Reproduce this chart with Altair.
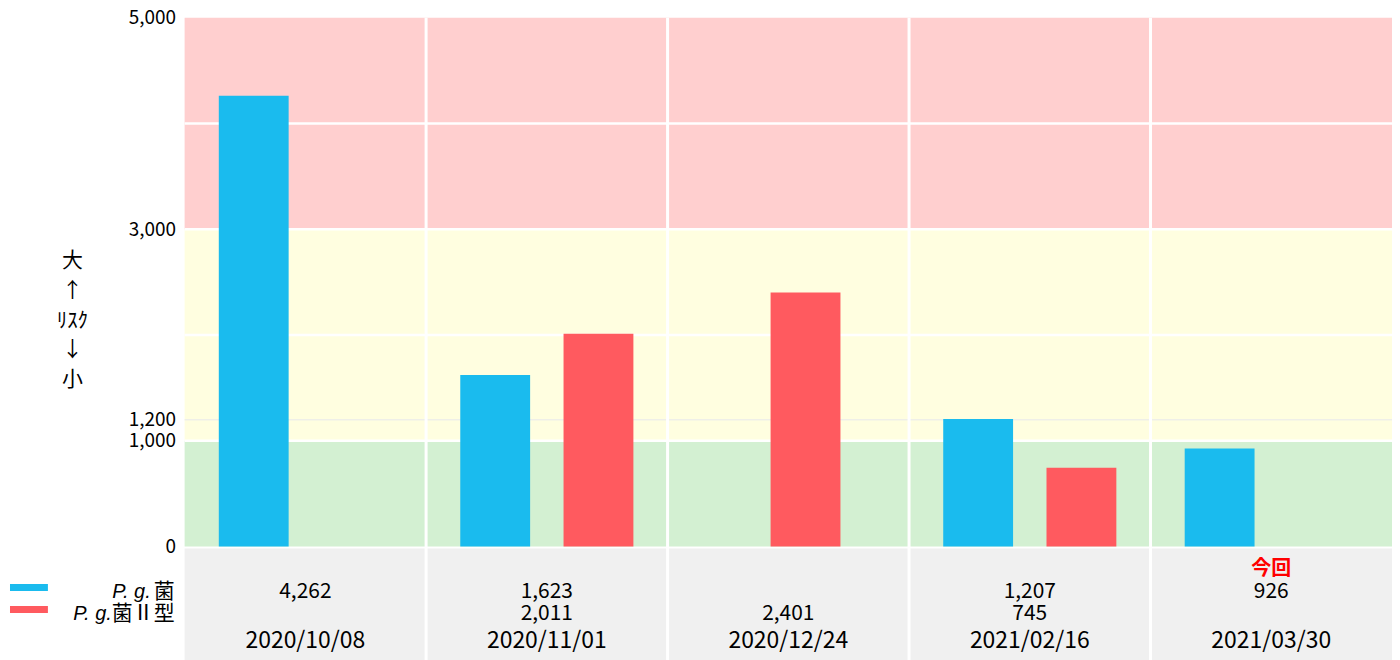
import altair as alt
import pandas as pd

# ---- data ----
dates = ["2020/10/08", "2020/11/01", "2020/12/24", "2021/02/16", "2021/03/30"]
pg_values = [4262, 1623, None, 1207, 926]
pg2_values = [None, 2011, 2401, 745, None]
# dataset slot (of four grouped-bar slots) used by each bar
pg_slot = [1, 1, 1, 1, 1]
pg2_slot = [4, 4, 3, 4, 4]
slots = [1, 2, 3, 4]
notes = ["", "", "", "", "今回"]
series_prefix = "P. g."
series_suffix = ["菌", "菌Ⅱ型"]
series = [series_prefix + s for s in series_suffix]
series_colors = ["#1ABBEE", "#FF5A5F"]
y_ticks = [0, 1000, 1200, 3000, 5000]
band_lo = [0, 1000, 3000]
band_hi = [1000, 3000, 5000]
band_colors = ["#D3F0D2", "#FFFEE0", "#FFCFCF"]
grid_major = [1000, 2000, 3000, 4000]
grid_minor = [1200]
y_title = ["大", "↑", "ﾘｽｸ", "↓", "小"]

W, H = 1210, 530
FONT = "Noto Sans CJK JP"

def fmt(v):
    return "" if v is None else f"{v:,}"

rows = []
for d, a, b, sa, sb in zip(dates, pg_values, pg2_values, pg_slot, pg2_slot):
    if a is not None:
        rows.append({"date": d, "series": series[0], "slot": sa, "value": a})
    if b is not None:
        rows.append({"date": d, "series": series[1], "slot": sb, "value": b})
df_bars = pd.DataFrame(rows)

df_tab = pd.DataFrame({
    "date": dates,
    "pg": [fmt(v) for v in pg_values],
    "pg2": [fmt(v) for v in pg2_values],
    "note": notes,
})
df_bands = pd.DataFrame({"lo": band_lo, "hi": band_hi, "c": band_colors})
df_major = pd.DataFrame({"v": grid_major})
df_minor = pd.DataFrame({"v": grid_minor})
df_sep = pd.DataFrame({"date": dates[1:]})
df_leg = pd.DataFrame({"s": series, "suffix": series_suffix})

xscale = alt.Scale(domain=dates, paddingInner=0, paddingOuter=0)
yscale = alt.Scale(domain=[0, 5000], nice=False, zero=True)

bands = alt.Chart(df_bands).mark_rect().encode(
    y=alt.Y("lo:Q", scale=yscale,
            axis=alt.Axis(values=y_ticks, labelExpr="format(datum.value, ',d')", title=y_title,
                          titleAngle=0, titleX=-113, titleY=232,
                          titleAlign="center", titleBaseline="top",
                          titleLineHeight=30, titleFontSize=21,
                          titleFontWeight="normal", titleFont=FONT,
                          titleColor="black",
                          labelFont=FONT, labelFontSize=19, labelColor="black",
                          labelPadding=9, ticks=False, domain=False, grid=False)),
    y2="hi:Q",
    x=alt.value(0), x2=alt.value(W),
    color=alt.Color("c:N", scale=None),
)

major = alt.Chart(df_major).mark_rule(color="white", strokeWidth=2.5).encode(
    y="v:Q", x=alt.value(0), x2=alt.value(W))
minor = alt.Chart(df_minor).mark_rule(color="#EFEFE8", strokeWidth=1.5).encode(
    y="v:Q", x=alt.value(0), x2=alt.value(W))

table_bg = alt.Chart(df_tab).mark_rect(color="#F0F0F0").encode(
    x=alt.X("date:N", scale=xscale, axis=None, sort=dates),
    y=alt.value(H + 2), y2=alt.value(H + 125))

bars = alt.Chart(df_bars).mark_bar(width=70).encode(
    x=alt.X("date:N", scale=xscale, axis=None, sort=dates),
    xOffset=alt.XOffset("slot:O", scale=alt.Scale(domain=slots, range=[52, 190],
                                                  paddingInner=0, paddingOuter=0)),
    y=alt.Y("value:Q", scale=yscale),
    color=alt.Color("series:N", scale=alt.Scale(domain=series, range=series_colors), legend=None),
)

seps = alt.Chart(df_sep).mark_rule(color="white", strokeWidth=3).encode(
    x=alt.X("date:N", scale=xscale, bandPosition=0, sort=dates),
    y=alt.value(0), y2=alt.value(H + 125))

txt = dict(font=FONT, fontSize=21, color="black", baseline="middle", align="center")
t_pg = alt.Chart(df_tab).mark_text(**txt).encode(
    x=alt.X("date:N", scale=xscale, sort=dates), y=alt.value(576), text="pg:N")
t_pg2 = alt.Chart(df_tab).mark_text(**txt).encode(
    x=alt.X("date:N", scale=xscale, sort=dates), y=alt.value(598), text="pg2:N")
t_date = alt.Chart(df_tab).mark_text(font=FONT, fontSize=23, color="black", baseline="middle",
                                      align="center").encode(
    x=alt.X("date:N", scale=xscale, sort=dates), y=alt.value(625), text="date:N")
t_note = alt.Chart(df_tab).mark_text(font=FONT, fontSize=20, fontWeight="bold", color="#FF0000",
                                      baseline="middle", align="center").encode(
    x=alt.X("date:N", scale=xscale, sort=dates), y=alt.value(553), text="note:N")

suffix_widths = [21, 60]
leg_layers = []
for i, (s, col) in enumerate(zip(series, series_colors)):
    d = df_leg[df_leg["s"] == s]
    yy = 576 + 22 * i
    leg_layers.append(alt.Chart(d).mark_rule(color=col, strokeWidth=7).encode(
        x=alt.value(-175), x2=alt.value(-137), y=alt.value(yy - 5)))
    leg_layers.append(alt.Chart(d).mark_text(font=FONT, fontSize=21, color="black",
                                            align="right", baseline="middle").encode(
        x=alt.value(-10), y=alt.value(yy), text="suffix:N"))
    leg_layers.append(alt.Chart(d).mark_text(font="Liberation Sans", fontSize=20, fontStyle="italic",
                                            color="black", align="right", baseline="middle").encode(
        x=alt.value(-13 - suffix_widths[i]), y=alt.value(yy), text=alt.value(series_prefix)))

chart = alt.layer(bands, major, minor, table_bg, bars, seps, t_pg, t_pg2, t_date, t_note,
                  *leg_layers).properties(
    width=W, height=H,
    autosize=alt.AutoSizeParams(type="none"),
    padding={"left": 177, "top": 9, "right": 0, "bottom": 125},
).configure_view(strokeWidth=0)

chart.save("out.html", embed_options={"renderer": "svg", "actions": False})
